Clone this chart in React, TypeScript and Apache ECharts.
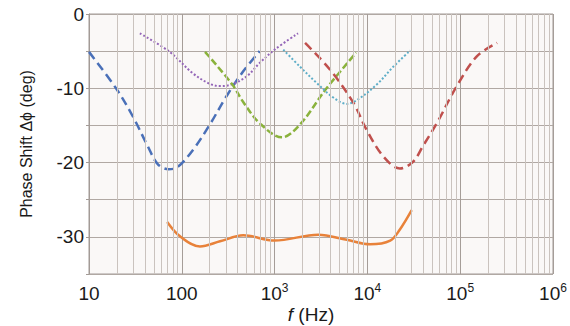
import React, { useEffect, useRef } from "react";
import * as echarts from "echarts";

const xTicks = [10, 100, 1000, 10000, 100000, 1000000];
const yTicks = [0, -10, -20, -30];

const blue: number[][] = [[10, -5.1], [19.8, -10.1], [29.7, -13.8], [43, -17.8], [55, -20.2], [72, -20.9], [90, -20.6], [132, -18.3], [200, -14.9], [302, -11.1], [457, -7.75], [690, -5]];
const purple: number[][] = [[35.3, -2.6], [74, -5.1], [132, -8.0], [200, -9.4], [257, -9.7], [340, -9.5], [500, -8.4], [690, -6.6], [1000, -4.8], [1790, -2.6]];
const green: number[][] = [[178, -5.1], [346, -9.4], [457, -11.8], [690, -14.7], [1200, -16.6], [1870, -14.9], [3630, -10], [7570, -5.2]];
const cyan: number[][] = [[1240, -4.8], [1880, -7.1], [2850, -9.3], [4340, -11.3], [6000, -12.1], [7690, -11.6], [12600, -9.5], [19000, -7.1], [29000, -4.9]];
const red: number[][] = [[2130, -3.9], [3960, -7.5], [7100, -12], [9800, -15.6], [14900, -19.2], [22400, -20.8], [31000, -19.9], [40000, -17.7], [56000, -14.7], [91000, -9.8], [151000, -5.7], [250000, -3.9]];
const orange: number[][] = [[69.6, -28], [95, -29.9], [157, -31.3], [258, -30.6], [460, -29.8], [1000, -30.5], [2950, -29.7], [6000, -30.4], [10700, -31.0], [17600, -30.5], [22400, -29], [30000, -26.4]];

const FONT = "'Liberation Sans', Arial, sans-serif";

export default function App() {
  const ref = useRef<HTMLDivElement>(null);
  useEffect(() => {
    if (!ref.current) return;
    const chart = echarts.init(ref.current, null, { renderer: "svg" });
    const minor: any[] = [];
    for (let k = 1; k < 6; k++) {
      for (let m = 2; m < 10; m++) minor.push({ xAxis: m * Math.pow(10, k) });
    }
    const lineSeries = (data: number[][], color: string, type: any, width: number) => ({
      type: "line",
      data,
      smooth: 0.35,
      showSymbol: false,
      symbol: "none",
      z: 3,
      lineStyle: { color, type, width },
    });
    chart.setOption({
      animation: false,
      backgroundColor: "#ffffff",
      grid: { left: 89, right: 17, top: 14, bottom: 52, show: true, backgroundColor: "#faf8f7", borderColor: "#a39b96", borderWidth: 1 },
      xAxis: {
        type: "log",
        logBase: 10,
        min: 10,
        max: 1000000,
        axisLine: { show: false },
        axisTick: { show: false },
        splitLine: { show: true, lineStyle: { color: "#a59d98", width: 1 } },
        axisLabel: {
          margin: 8,
          color: "#1a1a1a",
          fontSize: 19,
          fontFamily: FONT,
          formatter: (v: number) => {
            if (!xTicks.includes(v)) return "";
            const e = Math.round(Math.log10(v));
            return e <= 2 ? `{b|${v}}` : `{b|10}{s|${e}}`;
          },
          rich: {
            b: { fontSize: 19, fontFamily: FONT, color: "#1a1a1a", lineHeight: 22 },
            s: { fontSize: 12, fontFamily: FONT, color: "#1a1a1a", verticalAlign: "top", lineHeight: 12 },
          },
        },
      },
      yAxis: {
        type: "value",
        min: -35,
        max: 0,
        interval: 5,
        axisLine: { show: true, lineStyle: { color: "#a39b96" } },
        axisTick: { show: true, length: 3, lineStyle: { color: "#a39b96" } },
        splitLine: { show: true, lineStyle: { color: "#b0a8a3", width: 1 } },
        axisLabel: {
          margin: 5,
          color: "#1a1a1a",
          fontSize: 19,
          fontFamily: FONT,
          formatter: (v: number) => (yTicks.includes(v) ? String(v) : ""),
        },
        name: "Phase Shift Δϕ (deg)",
        nameLocation: "middle",
        nameGap: 55,
        nameTextStyle: { fontSize: 16, fontFamily: FONT, color: "#1a1a1a" },
      },
      graphic: [
        {
          type: "text",
          x: 311,
          y: 314,
          style: {
            text: "{i|f} (Hz)",
            textAlign: "center",
            textVerticalAlign: "middle",
            fontSize: 19,
            fontFamily: FONT,
            fill: "#1a1a1a",
            rich: { i: { fontStyle: "italic", fontSize: 19, fontFamily: FONT, fill: "#1a1a1a" } },
          },
        },
      ],
      series: [
        {
          type: "line",
          data: [[10, -35]],
          showSymbol: false,
          symbol: "none",
          lineStyle: { opacity: 0 },
          z: 1,
          markLine: {
            silent: true,
            symbol: ["none", "none"],
            label: { show: false },
            lineStyle: { color: "#cac3be", width: 1, type: "solid" },
            data: minor,
          },
        },
        lineSeries(blue, "#4a70b8", [9, 5], 2.5),
        lineSeries(purple, "#9466b8", [2, 2], 2),
        lineSeries(green, "#8ab23c", [7, 3], 2.5),
        lineSeries(cyan, "#5eaec8", [2, 2], 2),
        lineSeries(red, "#c0504d", [9, 5], 2.5),
        lineSeries(orange, "#e8823a", "solid", 2.5),
      ],
    });
    return () => chart.dispose();
  }, []);
  return <div ref={ref} style={{ position: "fixed", left: 0, top: 0, width: 570, height: 326 }} />;
}
